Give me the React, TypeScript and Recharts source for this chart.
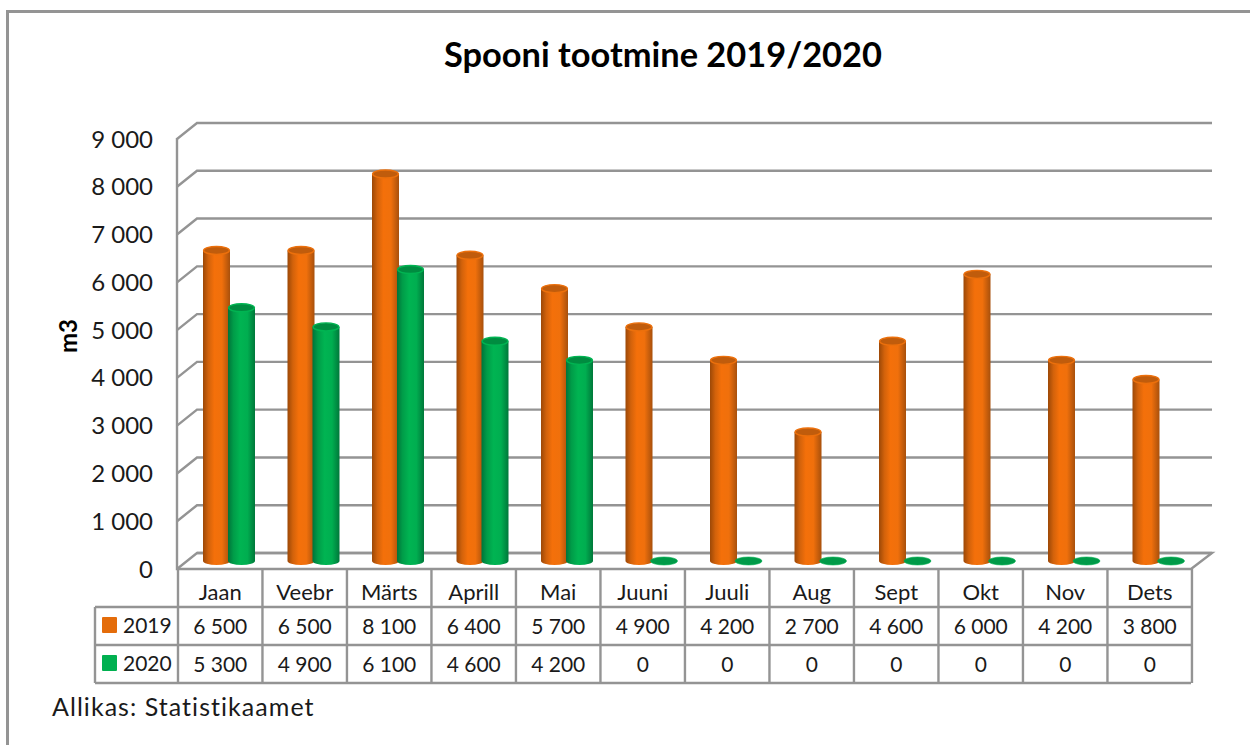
import React from "react";
import { BarChart, Bar, XAxis, YAxis, CartesianGrid } from "recharts";

const months = ["Jaan", "Veebr", "Märts", "Aprill", "Mai", "Juuni", "Juuli", "Aug", "Sept", "Okt", "Nov", "Dets"];
const values2019 = [6500, 6500, 8100, 6400, 5700, 4900, 4200, 2700, 4600, 6000, 4200, 3800];
const values2020 = [5300, 4900, 6100, 4600, 4200, 0, 0, 0, 0, 0, 0, 0];
const yTicks = [0, 1000, 2000, 3000, 4000, 5000, 6000, 7000, 8000, 9000];
const seriesNames = ["2019", "2020"];

const data = months.map((m, i) => ({ month: m, y2019: values2019[i], y2020: values2020[i] }));

const FONT = "Lato, 'Open Sans', sans-serif";
const GRID = "#949494";
const TEXT = "#1a1a1a";
const ORANGE = "#e46c0a";
const GREEN = "#00b050";

const fmt = (v: number) => (v >= 1000 ? `${Math.floor(v / 1000)} ${String(v % 1000).padStart(3, "0")}` : String(v));

// table rows, relative to the chart
const tTop = 569, r1 = 607, r2 = 645, tBottom = 683, depthX = 9;

const Cyl = (color: "o" | "g") => (p: any) => {
  const { x, y, width, height } = p;
  const rx = width / 2, ry = 4;
  const cx = x + rx;
  const top = color === "o" ? "#c05c0c" : "#008c40";
  const rim = color === "o" ? "#ec700c" : "#00b452";
  if (!height || height < 0.5) {
    return <ellipse cx={cx} cy={y} rx={rx} ry={ry} fill="#009a48" stroke="#00b050" strokeWidth={0.6} />;
  }
  return (
    <g>
      <path
        d={`M${x},${y} L${x},${y + height} A${rx},${ry} 0 0 0 ${x + width},${y + height} L${x + width},${y} Z`}
        fill={color === "o" ? "url(#cylO)" : "url(#cylG)"}
      />
      <ellipse cx={cx} cy={y} rx={rx - 0.6} ry={ry} fill={top} stroke={rim} strokeWidth={1.4} />
    </g>
  );
};

const gridLine = (p: any) => {
  const { x1, x2, y1 } = p;
  const y = y1;
  return (
    <path
      key={`g${y}`}
      d={`M${x1 - 10},${y + 8} L${x1 + 10},${y - 8} L${x2 + 11},${y - 8}`}
      fill="none"
      stroke={GRID}
      strokeWidth={2.4}
    />
  );
};

const YTick = (p: any) => (
  <text x={153} y={p.y + 7} textAnchor="end" dominantBaseline="central" fontFamily={FONT} fontSize={24} fill={TEXT}>
    {fmt(p.payload.value)}
  </text>
);

const XTick = (p: any) => {
  const i = p.index;
  const cx = p.x - depthX;
  const right = cx + 42.2;
  const t = { textAnchor: "middle" as const, dominantBaseline: "central" as const, fontFamily: FONT, fill: TEXT };
  return (
    <g>
      <line x1={right} x2={right} y1={tTop} y2={tBottom} stroke={GRID} strokeWidth={2.4} />
      <text x={cx} y={591} fontSize={22} {...t}>{months[i]}</text>
      <text x={cx} y={625} fontSize={21} {...t}>{fmt(values2019[i])}</text>
      <text x={cx} y={663} fontSize={21} {...t}>{fmt(values2020[i])}</text>
    </g>
  );
};

export default function App() {
  return (
    <div style={{ position: "absolute", left: 0, top: 0, width: 1250, height: 745, background: "#fff", overflow: "hidden" }}>
      <div style={{ position: "absolute", left: 6, top: 10, width: 1244, height: 735, borderLeft: `3px solid ${GRID}`, borderTop: `3px solid ${GRID}`, boxSizing: "border-box" }} />
      <BarChart
        width={1250}
        height={745}
        data={data}
        margin={{ top: 131, right: 49, bottom: 0, left: 0 }}
        barSize={27}
        barGap={-2}
        style={{ position: "absolute", left: 0, top: 0 }}
      >
        <defs>
          <linearGradient id="cylO" x1="0" x2="1" y1="0" y2="0">
            <stop offset="0" stopColor="#9c4807" />
            <stop offset="0.2" stopColor="#d2620b" />
            <stop offset="0.42" stopColor="#f4700a" />
            <stop offset="0.7" stopColor="#f0700c" />
            <stop offset="1" stopColor="#a8500c" />
          </linearGradient>
          <linearGradient id="cylG" x1="0" x2="1" y1="0" y2="0">
            <stop offset="0" stopColor="#00733a" />
            <stop offset="0.2" stopColor="#009c48" />
            <stop offset="0.45" stopColor="#00b452" />
            <stop offset="0.72" stopColor="#00ae50" />
            <stop offset="1" stopColor="#00783a" />
          </linearGradient>
        </defs>
        <CartesianGrid vertical={false} horizontal={gridLine} />
        <XAxis dataKey="month" axisLine={false} tickLine={false} tick={XTick} interval={0} height={184} />
        <YAxis
          domain={[0, 9000]}
          ticks={yTicks}
          width={187}
          axisLine={false}
          tickLine={false}
          tick={YTick}
          interval={0}
        />
        <Bar dataKey="y2019" name={seriesNames[0]} fill={ORANGE} isAnimationActive={false} shape={Cyl("o")} />
        <Bar dataKey="y2020" name={seriesNames[1]} fill={GREEN} isAnimationActive={false} shape={Cyl("g")} minPointSize={0} />

        {/* floor and walls */}
        <path d="M177,138 L177,569 L1191,569 L1212,553 L197,553" fill="none" stroke={GRID} strokeWidth={2.4} />
        {/* table frame */}
        <path d={`M178,${tTop} V${tBottom} M95,${r1} H1191 M95,${r2} H1191 M95,${tBottom} H1191 M95,${r1} V${tBottom}`} fill="none" stroke={GRID} strokeWidth={2.4} />
        {/* legend keys */}
        <rect x={102} y={617} width={15} height={16} rx={1} fill={ORANGE} />
        <rect x={102} y={655} width={15} height={16} rx={1} fill={GREEN} />
        <text x={123} y={624} dominantBaseline="central" fontFamily={FONT} fontSize={21} fill={TEXT}>{seriesNames[0]}</text>
        <text x={123} y={662} dominantBaseline="central" fontFamily={FONT} fontSize={21} fill={TEXT}>{seriesNames[1]}</text>
        {/* texts */}
        <text x={663} y={53} textAnchor="middle" dominantBaseline="central" fontFamily={FONT} fontWeight={700} fontSize={34.4} fill="#000">Spooni tootmine 2019/2020</text>
        <text x={67} y={336} textAnchor="middle" dominantBaseline="central" fontFamily={FONT} fontWeight={700} fontSize={24} fill="#000" transform="rotate(-90 67 336)">m3</text>
        <text x={52} y={706} dominantBaseline="central" fontFamily={FONT} fontSize={25} letterSpacing={1.05} fill={TEXT}>Allikas: Statistikaamet</text>
      </BarChart>
    </div>
  );
}
